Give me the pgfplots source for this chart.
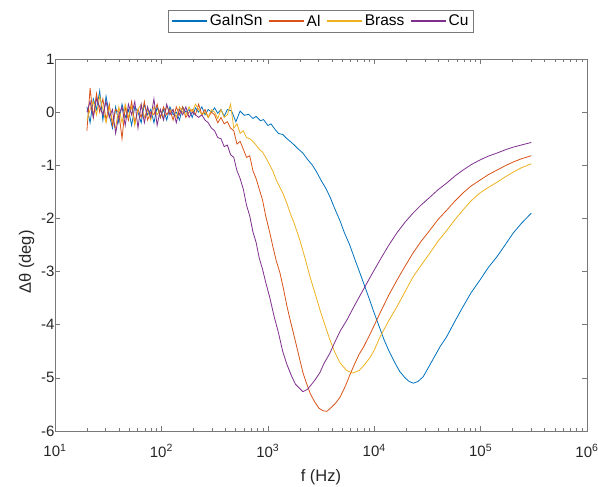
\documentclass[border=0pt]{standalone}
\usepackage{fontspec}
\setmainfont{Liberation Sans}
\usepackage{pgfplots}
\usepackage{pgfplotstable}
\pgfplotsset{compat=1.18}
\definecolor{mblue}{RGB}{0,114,189}
\definecolor{morange}{RGB}{217,83,25}
\definecolor{myellow}{RGB}{237,177,32}
\definecolor{mpurple}{RGB}{126,47,142}
\definecolor{axgray}{RGB}{120,120,120}
\definecolor{txtgray}{RGB}{38,38,38}

% lf = log10(f / Hz), v = delta theta (deg)
\pgfplotstableread{
lf v
1.30 0.10
1.33 -0.20
1.36 0.25
1.39 0.05
1.42 0.40
1.45 -0.15
1.48 0.30
1.51 -0.05
1.54 -0.30
1.57 0.10
1.60 -0.20
1.63 0.15
1.66 -0.10
1.69 0.05
1.72 -0.25
1.75 0.10
1.78 0.00
1.81 -0.20
1.84 0.15
1.87 -0.05
1.90 0.05
1.93 -0.20
1.96 0.10
1.99 -0.10
2.02 0.05
2.05 -0.15
2.08 0.10
2.11 -0.05
2.14 0.00
2.17 -0.15
2.20 0.10
2.23 0.00
2.26 0.05
2.29 -0.10
2.32 0.08
2.35 0.00
2.38 0.10
2.41 -0.05
2.44 0.05
2.47 0.00
2.50 0.08
2.53 -0.02
2.56 0.05
2.59 -0.08
2.62 0.05
2.66 0.02
2.70 -0.18
2.74 0.02
2.78 -0.06
2.82 -0.04
2.86 -0.12
2.89 -0.08
2.93 -0.16
2.96 -0.14
3.00 -0.25
3.03 -0.22
3.07 -0.33
3.10 -0.40
3.14 -0.42
3.18 -0.50
3.21 -0.55
3.25 -0.62
3.29 -0.70
3.33 -0.77
3.37 -0.88
3.42 -1.00
3.46 -1.13
3.50 -1.28
3.55 -1.45
3.59 -1.62
3.63 -1.82
3.68 -2.05
3.72 -2.27
3.77 -2.50
3.82 -2.78
3.87 -3.05
3.91 -3.27
3.96 -3.55
4.00 -3.78
4.05 -4.05
4.09 -4.27
4.14 -4.50
4.19 -4.70
4.24 -4.88
4.29 -5.00
4.33 -5.07
4.37 -5.10
4.41 -5.07
4.46 -4.98
4.50 -4.84
4.55 -4.66
4.62 -4.41
4.68 -4.23
4.76 -3.93
4.835 -3.66
4.91 -3.40
4.994 -3.16
5.07 -2.93
5.154 -2.72
5.23 -2.50
5.305 -2.28
5.38 -2.10
5.477 -1.90
}\gainsn

\pgfplotstableread{
lf v
1.30 -0.35
1.33 0.45
1.36 -0.10
1.39 0.35
1.42 0.00
1.45 0.25
1.48 -0.15
1.51 0.15
1.54 -0.25
1.57 0.05
1.60 0.00
1.63 -0.50
1.66 0.10
1.69 -0.15
1.72 0.20
1.75 -0.20
1.78 0.05
1.81 -0.10
1.84 0.20
1.87 -0.15
1.90 0.00
1.93 -0.05
1.96 0.15
1.99 -0.10
2.02 0.10
2.05 -0.05
2.08 0.05
2.11 -0.15
2.14 0.10
2.17 -0.05
2.20 0.10
2.23 -0.10
2.26 0.00
2.29 0.05
2.32 -0.05
2.35 0.15
2.38 -0.05
2.41 0.05
2.44 -0.10
2.47 0.00
2.50 -0.05
2.53 -0.20
2.56 -0.10
2.59 -0.22
2.62 -0.18
2.65 -0.30
2.68 -0.35
2.71 -0.60
2.74 -0.55
2.77 -0.70
2.80 -0.85
2.83 -0.82
2.86 -1.10
2.89 -1.25
2.92 -1.45
2.95 -1.65
2.98 -1.95
3.02 -2.28
3.05 -2.55
3.08 -2.80
3.115 -3.03
3.15 -3.35
3.18 -3.65
3.21 -3.91
3.24 -4.15
3.27 -4.40
3.30 -4.65
3.33 -4.90
3.36 -5.08
3.40 -5.30
3.44 -5.45
3.48 -5.57
3.52 -5.62
3.556 -5.63
3.60 -5.55
3.64 -5.47
3.68 -5.36
3.73 -5.15
3.77 -4.95
3.82 -4.72
3.86 -4.55
3.90 -4.42
3.975 -4.12
4.055 -3.78
4.135 -3.45
4.214 -3.16
4.29 -2.90
4.365 -2.65
4.445 -2.42
4.524 -2.22
4.60 -2.02
4.684 -1.84
4.76 -1.67
4.835 -1.52
4.91 -1.39
4.994 -1.28
5.07 -1.18
5.154 -1.09
5.23 -1.01
5.305 -0.94
5.38 -0.88
5.477 -0.82
}\al

\pgfplotstableread{
lf v
1.30 -0.15
1.33 0.05
1.36 0.20
1.39 -0.05
1.42 0.30
1.45 0.05
1.48 -0.20
1.51 0.10
1.54 -0.15
1.57 -0.30
1.60 0.10
1.63 -0.20
1.66 0.15
1.69 -0.10
1.72 0.10
1.75 -0.25
1.78 0.05
1.81 0.15
1.84 -0.10
1.87 0.05
1.90 -0.15
1.93 0.10
1.96 -0.05
1.99 0.05
2.02 -0.10
2.05 0.10
2.08 0.00
2.11 0.05
2.14 -0.10
2.17 0.10
2.20 0.00
2.23 -0.05
2.26 0.10
2.29 0.00
2.32 0.15
2.35 0.05
2.38 -0.05
2.41 0.00
2.44 -0.10
2.47 0.05
2.50 0.00
2.53 -0.12
2.56 0.05
2.59 -0.10
2.62 -0.05
2.65 0.15
2.68 -0.30
2.71 -0.22
2.74 -0.40
2.77 -0.35
2.80 -0.48
2.83 -0.50
2.86 -0.55
2.89 -0.62
2.92 -0.70
2.95 -0.75
2.98 -0.85
3.02 -1.00
3.05 -1.12
3.08 -1.28
3.11 -1.40
3.14 -1.52
3.18 -1.72
3.21 -1.90
3.25 -2.10
3.30 -2.40
3.35 -2.75
3.40 -3.12
3.45 -3.45
3.49 -3.72
3.54 -4.02
3.585 -4.29
3.63 -4.52
3.68 -4.72
3.74 -4.86
3.80 -4.91
3.86 -4.86
3.91 -4.75
3.96 -4.62
4.00 -4.48
4.055 -4.23
4.135 -3.93
4.214 -3.66
4.29 -3.38
4.365 -3.10
4.445 -2.87
4.524 -2.65
4.60 -2.43
4.684 -2.22
4.76 -2.02
4.835 -1.84
4.91 -1.67
4.994 -1.52
5.07 -1.42
5.154 -1.32
5.23 -1.22
5.305 -1.13
5.38 -1.05
5.477 -0.97
}\brass

\pgfplotstableread{
lf v
1.30 0.00
1.33 0.20
1.36 -0.10
1.39 0.25
1.42 0.10
1.45 -0.05
1.48 0.20
1.51 -0.10
1.54 0.05
1.57 -0.40
1.60 -0.05
1.63 0.10
1.66 -0.25
1.69 0.15
1.72 -0.05
1.75 0.20
1.78 -0.30
1.81 0.15
1.84 -0.20
1.87 0.10
1.90 -0.10
1.93 0.25
1.96 -0.25
1.99 0.05
2.02 -0.15
2.05 0.15
2.08 -0.05
2.11 0.05
2.14 -0.20
2.17 0.05
2.20 -0.05
2.23 0.10
2.26 -0.10
2.29 0.00
2.32 -0.05
2.35 -0.10
2.38 -0.05
2.41 -0.15
2.44 -0.20
2.47 -0.30
2.50 -0.35
2.53 -0.48
2.56 -0.50
2.59 -0.65
2.62 -0.62
2.65 -0.80
2.68 -0.85
2.71 -1.10
2.74 -1.25
2.77 -1.45
2.80 -1.75
2.83 -1.95
2.86 -2.25
2.89 -2.45
2.92 -2.75
2.95 -2.95
2.98 -3.20
3.02 -3.50
3.06 -3.85
3.10 -4.15
3.14 -4.50
3.18 -4.75
3.22 -4.95
3.26 -5.12
3.30 -5.20
3.33 -5.26
3.37 -5.22
3.40 -5.15
3.44 -5.05
3.49 -4.90
3.53 -4.72
3.58 -4.55
3.63 -4.33
3.68 -4.12
3.744 -3.91
3.82 -3.62
3.895 -3.35
3.975 -3.06
4.055 -2.78
4.135 -2.51
4.214 -2.27
4.29 -2.07
4.365 -1.90
4.445 -1.74
4.524 -1.60
4.60 -1.46
4.684 -1.33
4.76 -1.20
4.835 -1.09
4.91 -0.99
4.994 -0.90
5.07 -0.83
5.154 -0.77
5.23 -0.71
5.305 -0.66
5.38 -0.62
5.477 -0.57
}\cu

\begin{document}
\begin{tikzpicture}
\begin{axis}[
  scale only axis, width=532pt, height=372pt,
  xmode=log, xmin=10, xmax=1e6, ymin=-6, ymax=1,
  xtick={10,100,1000,10000,100000,1000000},
  xticklabels={10\textsuperscript{1},10\textsuperscript{2},10\textsuperscript{3},10\textsuperscript{4},10\textsuperscript{5},10\textsuperscript{6}},
  minor xtick={20,30,40,50,60,70,80,90,200,300,400,500,600,700,800,900,2000,3000,4000,5000,6000,7000,8000,9000,20000,30000,40000,50000,60000,70000,80000,90000,200000,300000,400000,500000,600000,700000,800000,900000},
  ytick={-6,-5,-4,-3,-2,-1,0,1},
  tick pos=both, tick align=inside,
  major tick length=5pt, minor tick length=3pt,
  axis line style={axgray, line width=0.6pt},
  every tick/.style={axgray, line width=0.6pt},
  /pgf/number format/assume math mode=true,
  tick label style={font=\fontsize{15}{17}\selectfont, text=txtgray},
  xticklabel style={yshift=-10pt},
  yticklabel style={xshift=3pt},
  xlabel={f (Hz)}, ylabel={Δθ (deg)},
  label style={font=\fontsize{16.5}{19}\selectfont, text=txtgray},
  xlabel style={yshift=-5pt},
  ylabel style={at={(ticklabel cs:0.454)}},
  legend columns=4,
  legend style={at={(0.5,1)}, anchor=south, yshift=26pt, draw=axgray, line width=0.6pt,
    font=\fontsize{15.5}{17}\selectfont, inner xsep=3pt, inner ysep=3pt,
    /tikz/every even column/.append style={column sep=4pt}},
  legend image code/.code={\draw[#1, line width=1.3pt] (0pt,0.25pt) -- (35pt,0.25pt);},
  every axis plot/.append style={line width=0.8pt},
]
\coordinate (bl) at (rel axis cs:0,0);
\addplot[color=mblue] table[x expr={10^(\thisrow{lf})}, y=v] {\gainsn};
\addlegendentry{GaInSn}
\addplot[color=morange] table[x expr={10^(\thisrow{lf})}, y=v] {\al};
\addlegendentry{Al}
\addplot[color=myellow] table[x expr={10^(\thisrow{lf})}, y=v] {\brass};
\addlegendentry{Brass}
\addplot[color=mpurple] table[x expr={10^(\thisrow{lf})}, y=v] {\cu};
\addlegendentry{Cu}
\end{axis}
\pgfresetboundingbox
\path (bl) ++(-55pt,-56pt) rectangle ++(598pt,487pt);
\end{tikzpicture}
\end{document}
